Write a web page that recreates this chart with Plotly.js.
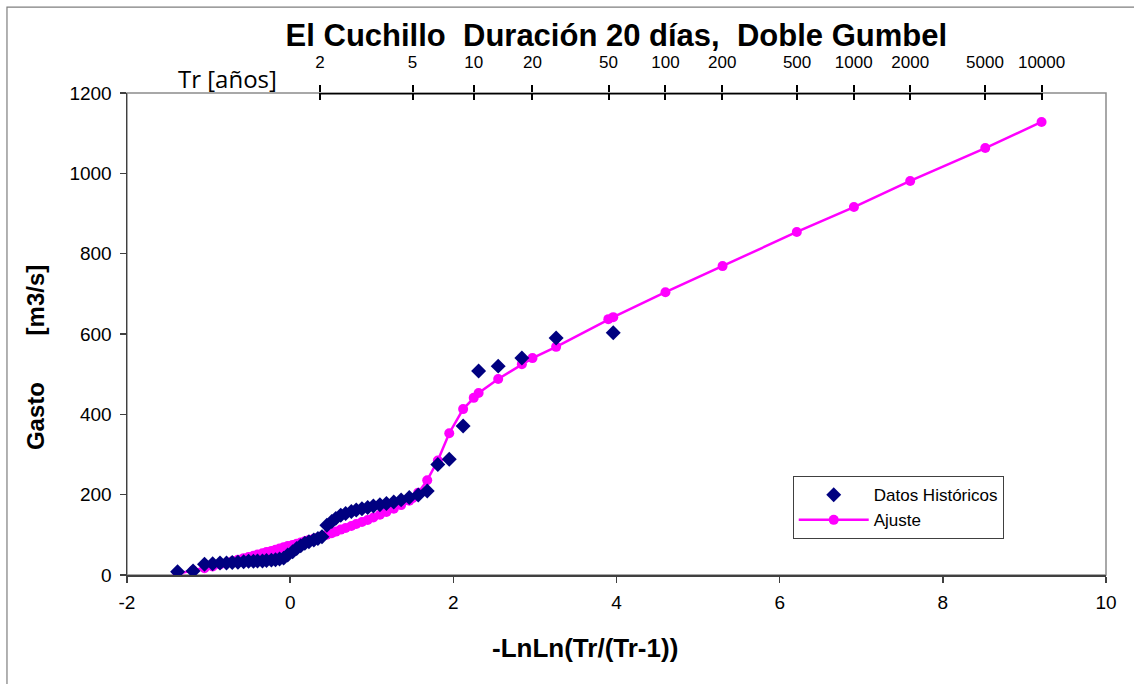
<!DOCTYPE html>
<html>
<head>
<meta charset="utf-8">
<script src="https://cdn.plot.ly/plotly-3.0.1.min.js"></script>
<style>html,body{margin:0;padding:0;background:#fff}#chart{width:1134px;height:684px}</style>
</head>
<body>
<div id="chart"></div>
<script>
// Datos históricos (-LnLn(Tr/(Tr-1)), gasto m3/s)
const datosX = [3.96, 3.26, 2.84, 2.55, 2.31, 2.12, 1.95, 1.81, 1.68, 1.57, 1.46, 1.36, 1.27, 1.18, 1.10, 1.02, 0.95, 0.88, 0.81, 0.75, 0.68, 0.62, 0.56, 0.51, 0.45, 0.39, 0.34, 0.29, 0.23, 0.18, 0.13, 0.08, 0.03, -0.03, -0.08, -0.13, -0.18, -0.23, -0.29, -0.34, -0.40, -0.45, -0.51, -0.57, -0.64, -0.71, -0.78, -0.86, -0.95, -1.05, -1.19, -1.38];
const datosY = [603, 590, 540, 520, 508, 371, 288, 275, 209, 199, 193, 187, 182, 178, 175, 172, 168, 165, 162, 158, 153, 149, 141, 133, 124, 95, 91, 87, 83, 79, 73, 66, 58, 50, 42, 40, 38, 37, 36, 35, 35, 34, 34, 33, 32, 31, 30, 30, 28, 27, 10, 8];

// Ajuste Doble Gumbel
const ajusteX = [-1.38, -1.19, -1.05, -0.95, -0.86, -0.78, -0.71, -0.64, -0.57, -0.51, -0.45, -0.40, -0.34, -0.29, -0.23, -0.18, -0.13, -0.08, -0.03, 0.03, 0.08, 0.13, 0.18, 0.23, 0.29, 0.34, 0.37, 0.39, 0.45, 0.51, 0.56, 0.62, 0.68, 0.75, 0.81, 0.88, 0.95, 1.02, 1.10, 1.18, 1.27, 1.36, 1.46, 1.50, 1.57, 1.68, 1.81, 1.95, 2.12, 2.25, 2.31, 2.55, 2.84, 2.97, 3.26, 3.90, 3.96, 4.60, 5.30, 6.21, 6.91, 7.60, 8.52, 9.21];
const ajusteY = [3, 11, 17, 21, 26, 30, 34, 38, 42, 45, 48, 51, 54, 57, 60, 63, 66, 69, 72, 75, 78, 81, 84, 87, 90, 93, 95, 96, 100, 104, 108, 113, 117, 122, 127, 132, 137, 143, 150, 157, 165, 174, 185, 191, 205, 236, 285, 353, 413, 441, 453, 488, 525, 540, 568, 637, 642, 704, 769, 854, 916, 981, 1063, 1128];

// Ejes
const xTicks = [-2, 0, 2, 4, 6, 8, 10];
const xTickText = ['-2', '0', '2', '4', '6', '8', '10'];
const yTicks = [0, 200, 400, 600, 800, 1000, 1200];

// Periodos de retorno (eje superior)
const trLabels = [2, 5, 10, 20, 50, 100, 200, 500, 1000, 2000, 5000, 10000];
const trPos = trLabels.map(T => -Math.log(Math.log(T / (T - 1))));

const FONT = '"Liberation Sans", Arial, sans-serif';

const traces = [
  {
    x: ajusteX, y: ajusteY, type: 'scatter', mode: 'lines+markers', name: 'Ajuste',
    line: {color: '#FF00FF', width: 2.5},
    marker: {color: '#FF00FF', size: 10, symbol: 'circle'},
    legendrank: 2
  },
  {
    x: datosX, y: datosY, type: 'scatter', mode: 'markers', name: 'Datos Históricos',
    marker: {color: '#000080', size: 11.5, symbol: 'diamond'},
    legendrank: 1
  },
  {x: [trPos[0]], y: [1200], xaxis: 'x2', yaxis: 'y', mode: 'markers', marker: {opacity: 0}, showlegend: false, hoverinfo: 'skip'},
  {x: [trPos[0]], y: [1200], xaxis: 'x3', yaxis: 'y', mode: 'markers', marker: {opacity: 0}, showlegend: false, hoverinfo: 'skip'}
];

const layout = {
  width: 1134, height: 684,
  margin: {l: 127, r: 28, t: 93, b: 109},
  paper_bgcolor: '#ffffff', plot_bgcolor: '#ffffff',
  font: {family: FONT, color: '#000'},
  showlegend: true,
  title: {
    text: 'El Cuchillo  Duración 20 días,  Doble Gumbel',
    font: {family: FONT, size: 31, color: '#000', weight: 'bold'},
    x: 0.5435, xanchor: 'center', y: 0.948, yanchor: 'middle'
  },
  xaxis: {
    range: [-2, 10], tickmode: 'array', tickvals: xTicks, ticktext: xTickText,
    showgrid: false, zeroline: false,
    showline: true, linecolor: '#404040', linewidth: 1.5,
    ticks: 'outside', ticklen: 6, tickwidth: 1.5, tickcolor: '#404040',
    ticklabelstandoff: 4,
    tickfont: {family: FONT, size: 19, color: '#000'}
  },
  xaxis2: {
    overlaying: 'x', side: 'top', anchor: 'y', range: [-2, 10],
    tickmode: 'array', tickvals: trPos, ticktext: trLabels.map(String),
    showgrid: false, zeroline: false, showline: false,
    ticks: 'outside', ticklen: 7, tickwidth: 2, tickcolor: '#000',
    ticklabelstandoff: 10,
    tickfont: {family: FONT, size: 17, color: '#000'}
  },
  xaxis3: {
    overlaying: 'x', side: 'top', anchor: 'y', range: [-2, 10],
    tickmode: 'array', tickvals: trPos, showticklabels: false,
    showgrid: false, zeroline: false, showline: false,
    ticks: 'inside', ticklen: 7, tickwidth: 2, tickcolor: '#000'
  },
  yaxis: {
    range: [0, 1200], tickmode: 'array', tickvals: yTicks, showgrid: false, zeroline: false,
    showline: true, linecolor: '#404040', linewidth: 1.5,
    ticks: 'outside', ticklen: 6, tickwidth: 1.5, tickcolor: '#404040',
    ticklabelstandoff: 4,
    tickfont: {family: FONT, size: 19, color: '#000'}
  },
  legend: {
    x: 0.68, y: 0.205, xanchor: 'left', yanchor: 'top',
    bgcolor: '#ffffff', bordercolor: '#404040', borderwidth: 1,
    font: {family: FONT, size: 17, color: '#000'},
    itemwidth: 70,
    tracegroupgap: 4
  },
  shapes: [
    {type: 'rect', xref: 'paper', yref: 'paper', x0: -0.1226, x1: 1.1, y0: -0.4, y1: 1.178,
     line: {color: '#7f7f7f', width: 1.2}, layer: 'below'},
    {type: 'rect', xref: 'paper', yref: 'paper', x0: 0, x1: 1, y0: 0, y1: 1,
     line: {color: '#8c8c8c', width: 1.5}, layer: 'below'},
    {type: 'line', xref: 'x', yref: 'y', x0: trPos[0], x1: trPos[trPos.length - 1], y0: 1200, y1: 1200,
     line: {color: '#000', width: 3}}
  ],
  annotations: [
    {text: '<b>-LnLn(Tr/(Tr-1))</b>', xref: 'paper', yref: 'paper', x: 0.468, y: -0.151,
     xanchor: 'center', yanchor: 'middle', showarrow: false, font: {family: FONT, size: 26, color: '#000'}},
    {text: '<b>Gasto       [m3/s]</b>', xref: 'paper', yref: 'paper', x: -0.094, y: 0.452,
     xanchor: 'center', yanchor: 'middle', textangle: -90, showarrow: false, font: {family: FONT, size: 24, color: '#000'}},
    {text: 'Tr [años]', xref: 'paper', yref: 'paper', x: 0.103, y: 1.031,
     xanchor: 'center', yanchor: 'middle', showarrow: false, font: {family: 'Open Sans, "Liberation Sans", sans-serif', size: 24, color: '#000'}}
  ]
};

Plotly.newPlot('chart', traces, layout, {displayModeBar: false, staticPlot: true});
</script>
</body>
</html>
